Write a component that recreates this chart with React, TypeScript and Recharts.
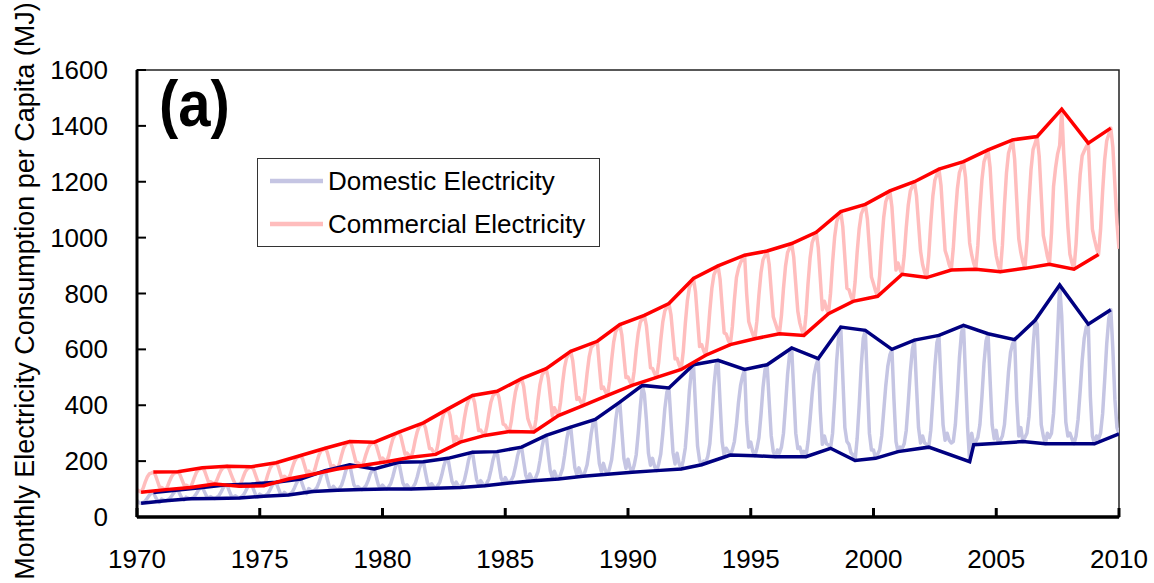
import React from 'react';
import { LineChart, Line, XAxis, YAxis, ReferenceArea, Legend } from 'recharts';

const START_YEAR = 1970;
const YEAR_TICKS = [1970, 1975, 1980, 1985, 1990, 1995, 2000, 2005, 2010];
const VALUE_TICKS = [0, 200, 400, 600, 800, 1000, 1200, 1400, 1600];
const SERIES_NAMES = ['Domestic Electricity', 'Commercial Electricity'];
const Y_TITLE = 'Monthly Electricity Consumption per Capita (MJ)';
const PANEL_LABEL = '(a)';

// Monthly values, Jan..Dec of each year from 1970, plus Jan 2010
const domesticMonthly = [
  60, 51, 49, 52, 57, 67, 78, 86, 88, 72, 58, 52,
  64, 60, 58, 61, 66, 76, 87, 95, 97, 81, 67, 61,
  71, 67, 65, 68, 73, 83, 96, 104, 106, 90, 74, 68,
  73, 68, 66, 70, 76, 88, 103, 113, 115, 95, 77, 70,
  76, 71, 68, 72, 78, 91, 106, 116, 118, 98, 79, 72,
  82, 77, 74, 78, 84, 97, 112, 122, 124, 104, 85, 78,
  88, 82, 79, 84, 90, 105, 122, 133, 136, 113, 92, 84,
  102, 95, 91, 97, 106, 125, 147, 162, 166, 136, 108, 97,
  110, 101, 96, 103, 114, 137, 164, 182, 187, 151, 116, 103,
  109, 102, 98, 104, 113, 131, 154, 168, 172, 142, 114, 104,
  114, 105, 100, 108, 119, 143, 172, 191, 196, 158, 121, 108,
  115, 105, 100, 108, 120, 144, 174, 193, 198, 159, 122, 108,
  119, 108, 103, 112, 124, 151, 183, 205, 210, 167, 127, 112,
  125, 112, 106, 116, 131, 163, 201, 226, 232, 182, 134, 116,
  130, 118, 112, 122, 136, 167, 204, 228, 234, 185, 139, 122,
  141, 128, 122, 132, 148, 180, 218, 244, 250, 199, 150, 132,
  154, 138, 130, 143, 162, 203, 252, 284, 292, 227, 166, 143,
  164, 145, 136, 151, 173, 220, 276, 313, 322, 248, 177, 151,
  176, 156, 146, 162, 187, 237, 298, 339, 349, 268, 191, 162,
  192, 166, 153, 174, 205, 269, 347, 398, 411, 308, 210, 174,
  207, 176, 160, 185, 222, 300, 393, 471, 440, 347, 228, 185,
  210, 181, 166, 190, 225, 299, 388, 447, 462, 344, 231, 190,
  228, 191, 172, 202, 247, 340, 452, 526, 545, 396, 254, 202,
  187, 200, 196, 217, 262, 355, 468, 542, 561, 411, 269, 220,
  246, 235, 222, 240, 270, 330, 410, 470, 505, 528, 340, 250,
  268, 235, 219, 245, 284, 366, 464, 529, 545, 415, 291, 235,
  216, 240, 228, 250, 300, 400, 510, 585, 605, 450, 300, 245,
  250, 226, 235, 216, 270, 350, 440, 510, 545, 567, 380, 260,
  290, 262, 258, 246, 300, 420, 560, 650, 680, 500, 320, 270,
  260, 230, 222, 202, 280, 400, 540, 640, 668, 480, 300, 240,
  240, 210, 225, 240, 290, 380, 470, 540, 580, 600, 420, 270,
  234, 250, 245, 262, 310, 410, 520, 600, 633, 470, 320, 265,
  290, 265, 260, 250, 310, 420, 540, 625, 650, 480, 330, 275,
  300, 275, 265, 270, 330, 440, 570, 660, 686, 500, 320, 198,
  300, 259, 270, 285, 330, 430, 550, 630, 656, 490, 330, 280,
  310, 264, 275, 290, 330, 420, 520, 590, 620, 635, 420, 290,
  320, 270, 285, 300, 360, 480, 610, 704, 690, 500, 330, 290,
  262, 300, 285, 300, 370, 500, 660, 830, 720, 520, 340, 290,
  300, 280, 262, 290, 350, 450, 560, 640, 680, 690, 430, 290,
  262, 290, 280, 300, 370, 490, 620, 710, 742, 600, 420, 320,
  298,
];

const commercialMonthly = [
  98, 93, 89, 103, 125, 143, 154, 157, 161, 150, 129, 107,
  106, 101, 98, 111, 130, 146, 156, 159, 162, 152, 133, 114,
  114, 110, 106, 120, 141, 159, 169, 173, 176, 166, 145, 124,
  126, 121, 118, 131, 150, 166, 176, 179, 182, 172, 153, 134,
  118, 114, 110, 124, 145, 163, 173, 177, 180, 170, 149, 128,
  122, 116, 112, 128, 153, 174, 186, 190, 194, 182, 157, 133,
  146, 140, 136, 153, 178, 199, 212, 216, 220, 207, 182, 157,
  164, 158, 153, 172, 200, 223, 237, 241, 246, 232, 204, 176,
  184, 177, 172, 192, 221, 246, 260, 265, 270, 255, 226, 197,
  194, 188, 184, 201, 226, 247, 260, 264, 268, 255, 230, 205,
  211, 203, 198, 219, 251, 278, 293, 299, 304, 288, 256, 225,
  229, 220, 214, 239, 276, 306, 325, 331, 337, 319, 282, 245,
  244, 232, 224, 257, 306, 346, 371, 379, 387, 363, 314, 265,
  288, 276, 268, 301, 352, 393, 418, 427, 435, 410, 360, 310,
  311, 300, 292, 324, 371, 411, 434, 442, 450, 426, 379, 332,
  329, 315, 306, 344, 401, 448, 476, 486, 495, 467, 410, 353,
  331, 315, 304, 349, 418, 474, 508, 520, 531, 497, 429, 361,
  391, 375, 363, 409, 478, 536, 570, 582, 593, 559, 490, 421,
  427, 411, 399, 445, 514, 572, 606, 615, 622, 629, 540, 460,
  465, 448, 435, 486, 562, 626, 664, 676, 689, 651, 575, 499,
  501, 484, 471, 521, 597, 659, 697, 709, 722, 684, 609, 534,
  532, 513, 500, 553, 632, 698, 738, 751, 764, 724, 645, 566,
  567, 544, 528, 593, 691, 773, 821, 838, 854, 805, 707, 610,
  617, 595, 579, 643, 739, 819, 867, 883, 899, 851, 755, 659,
  655, 633, 617, 681, 777, 857, 890, 910, 925, 937, 800, 700,
  676, 654, 638, 701, 795, 874, 921, 936, 952, 905, 811, 717,
  695, 672, 656, 721, 818, 898, 947, 963, 979, 931, 834, 737,
  694, 668, 650, 724, 835, 927, 982, 1001, 1019, 964, 853, 742,
  772, 746, 728, 801, 911, 1002, 1057, 1075, 1093, 1038, 929, 819,
  814, 789, 772, 841, 946, 1032, 1084, 1102, 1119, 1067, 963, 859,
  835, 809, 790, 865, 979, 1073, 1129, 1148, 1167, 1110, 997, 884,
  909, 886, 869, 935, 1035, 1117, 1167, 1183, 1200, 1150, 1051, 952,
  904, 876, 857, 935, 1051, 1148, 1206, 1226, 1245, 1187, 1070, 954,
  931, 903, 884, 962, 1078, 1175, 1233, 1253, 1272, 1214, 1097, 981,
  938, 908, 887, 972, 1101, 1207, 1271, 1293, 1314, 1250, 1122, 994,
  935, 902, 878, 972, 1114, 1232, 1303, 1326, 1350, 1279, 1138, 996,
  947, 914, 890, 984, 1126, 1244, 1315, 1338, 1362, 1291, 1150, 1008,
  972, 933, 905, 1016, 1183, 1250, 1300, 1330, 1460, 1300, 1180, 1040,
  941, 910, 887, 977, 1113, 1225, 1293, 1310, 1325, 1338, 1180, 1030,
  994, 963, 940, 1030, 1166, 1279, 1347, 1369, 1392, 1324, 1189, 1053,
  960,
];

const COLORS = {
  domesticMonthly: '#c5c5e3',
  commercialMonthly: '#ffbdbd',
  domesticEnvelope: '#000080',
  commercialEnvelope: '#ff0000',
};

const FONT = "'Liberation Sans', Arial, Helvetica, sans-serif";

type Pt = { x: number; y: number };

const toPoints = (vals: number[]): Pt[] =>
  vals.map((v, i) => ({ x: START_YEAR + i / 12, y: v }));

// yearly maximum / minimum of the monthly series, placed at the month it occurs
function yearlyExtremes(vals: number[], mode: 'max' | 'min', includePartialYear: boolean): Pt[] {
  const pts: Pt[] = [];
  const nYears = Math.ceil(vals.length / 12);
  for (let yr = 0; yr < nYears; yr++) {
    const s = yr * 12;
    const e = Math.min(s + 12, vals.length);
    if (e - s < 12 && !includePartialYear) continue;
    let best = s;
    for (let i = s; i < e; i++) {
      if (mode === 'max' ? vals[i] > vals[best] : vals[i] < vals[best]) best = i;
    }
    pts.push({ x: START_YEAR + best / 12, y: vals[best] });
  }
  return pts;
}

const domesticPts = toPoints(domesticMonthly);
const commercialPts = toPoints(commercialMonthly);
const domesticMax = yearlyExtremes(domesticMonthly, 'max', false);
const domesticMin = yearlyExtremes(domesticMonthly, 'min', true);
const commercialMax = yearlyExtremes(commercialMonthly, 'max', false);
const commercialMin = yearlyExtremes(commercialMonthly, 'min', false);

const Y_TICK_MARGIN = 29;
const X_TICK_MARGIN = 32;
const TICK_LEN = 9;

const labelStyle = { fontSize: '26px', fontFamily: FONT, fill: '#000' };

const YTick = (props: any) => {
  const { x, y, payload } = props;
  return (
    <g>
      <line x1={x + Y_TICK_MARGIN} x2={x + Y_TICK_MARGIN + TICK_LEN} y1={y} y2={y} stroke="#000" strokeWidth={2} />
      <text x={x} y={y} dy={9} textAnchor="end" style={labelStyle}>
        {payload.value}
      </text>
    </g>
  );
};

const XTick = (props: any) => {
  const { x, y, payload } = props;
  return (
    <g>
      <line x1={x} x2={x} y1={y - X_TICK_MARGIN} y2={y - X_TICK_MARGIN - TICK_LEN} stroke="#000" strokeWidth={3} />
      <text x={x} y={y} dy={19} textAnchor="middle" style={labelStyle}>
        {payload.value}
      </text>
    </g>
  );
};

const YTitle = () => (
  <text
    x={34}
    y={291}
    transform="rotate(-90 34 291)"
    textAnchor="middle"
    style={{ fontSize: '27px', fontFamily: FONT, fill: '#000' }}
  >
    {Y_TITLE}
  </text>
);

const LegendBox = () => {
  const swatches = [COLORS.domesticMonthly, COLORS.commercialMonthly];
  return (
    <div
      style={{
        width: 343,
        height: 89,
        border: '1.5px solid #333',
        background: '#fff',
        boxSizing: 'border-box',
        fontFamily: FONT,
        fontSize: 26,
        position: 'relative',
      }}
    >
      {SERIES_NAMES.map((name, i) => (
        <div
          key={name}
          style={{
            position: 'absolute',
            left: 12,
            top: i === 0 ? 8 : 51,
            height: 28,
            display: 'flex',
            alignItems: 'center',
            whiteSpace: 'nowrap',
          }}
        >
          <svg width={53} height={8} style={{ display: 'block' }}>
            <line x1={0} x2={53} y1={4} y2={4} stroke={swatches[i]} strokeWidth={4.5} />
          </svg>
          <span style={{ marginLeft: 5, lineHeight: '28px', color: '#000' }}>{name}</span>
        </div>
      ))}
    </div>
  );
};

export default function App() {
  return (
    <div style={{ position: 'absolute', left: 0, top: 0, width: 1154, height: 583, background: '#fff' }}>
      <LineChart width={1154} height={583} margin={{ top: 70, right: 35, bottom: 6, left: 57 }}>
        <XAxis
          dataKey="x"
          type="number"
          domain={[1970, 2010]}
          ticks={YEAR_TICKS}
          allowDataOverflow
          height={60}
          tickSize={0}
          tickMargin={X_TICK_MARGIN}
          tickLine={false}
          tick={<XTick />}
          axisLine={{ stroke: '#000', strokeWidth: 3.5 }}
          interval={0}
        />
        <YAxis
          dataKey="y"
          type="number"
          domain={[0, 1600]}
          ticks={VALUE_TICKS}
          allowDataOverflow
          width={80}
          tickSize={0}
          tickMargin={Y_TICK_MARGIN}
          tickLine={false}
          tick={<YTick />}
          axisLine={{ stroke: '#000', strokeWidth: 3 }}
          interval={0}
          label={(p: any) => <YTitle />}
        />
        <ReferenceArea x1={1970} x2={2010} y1={0} y2={1600} fill="none" stroke="#222" strokeWidth={1.5} />
        <Legend
          layout="vertical"
          align="center"
          verticalAlign="middle"
          content={() => <LegendBox />}
          wrapperStyle={{ left: 257, top: 158, width: 343, height: 89 }}
        />
        <Line data={domesticPts} dataKey="y" name={SERIES_NAMES[0]} stroke={COLORS.domesticMonthly} strokeWidth={3.5} dot={false} isAnimationActive={false} type="linear" strokeLinejoin="round" />
        <Line data={commercialPts} dataKey="y" name={SERIES_NAMES[1]} stroke={COLORS.commercialMonthly} strokeWidth={3.5} dot={false} isAnimationActive={false} type="linear" strokeLinejoin="round" />
        <Line data={domesticMax} dataKey="y" name="Domestic max" stroke={COLORS.domesticEnvelope} strokeWidth={3.5} dot={false} isAnimationActive={false} type="linear" legendType="none" />
        <Line data={domesticMin} dataKey="y" name="Domestic min" stroke={COLORS.domesticEnvelope} strokeWidth={3.5} dot={false} isAnimationActive={false} type="linear" legendType="none" />
        <Line data={commercialMax} dataKey="y" name="Commercial max" stroke={COLORS.commercialEnvelope} strokeWidth={3.5} dot={false} isAnimationActive={false} type="linear" legendType="none" />
        <Line data={commercialMin} dataKey="y" name="Commercial min" stroke={COLORS.commercialEnvelope} strokeWidth={3.5} dot={false} isAnimationActive={false} type="linear" legendType="none" />
      </LineChart>
      <svg width={1154} height={583} style={{ position: 'absolute', left: 0, top: 0, pointerEvents: 'none' }}>
        <text
          x={159}
          y={126}
          transform="translate(0 126) scale(1 1.12) translate(0 -126)"
          style={{ fontSize: '58px', fontWeight: 'bold', fontFamily: FONT, fill: '#000' }}
        >
          {PANEL_LABEL}
        </text>
      </svg>
    </div>
  );
}
